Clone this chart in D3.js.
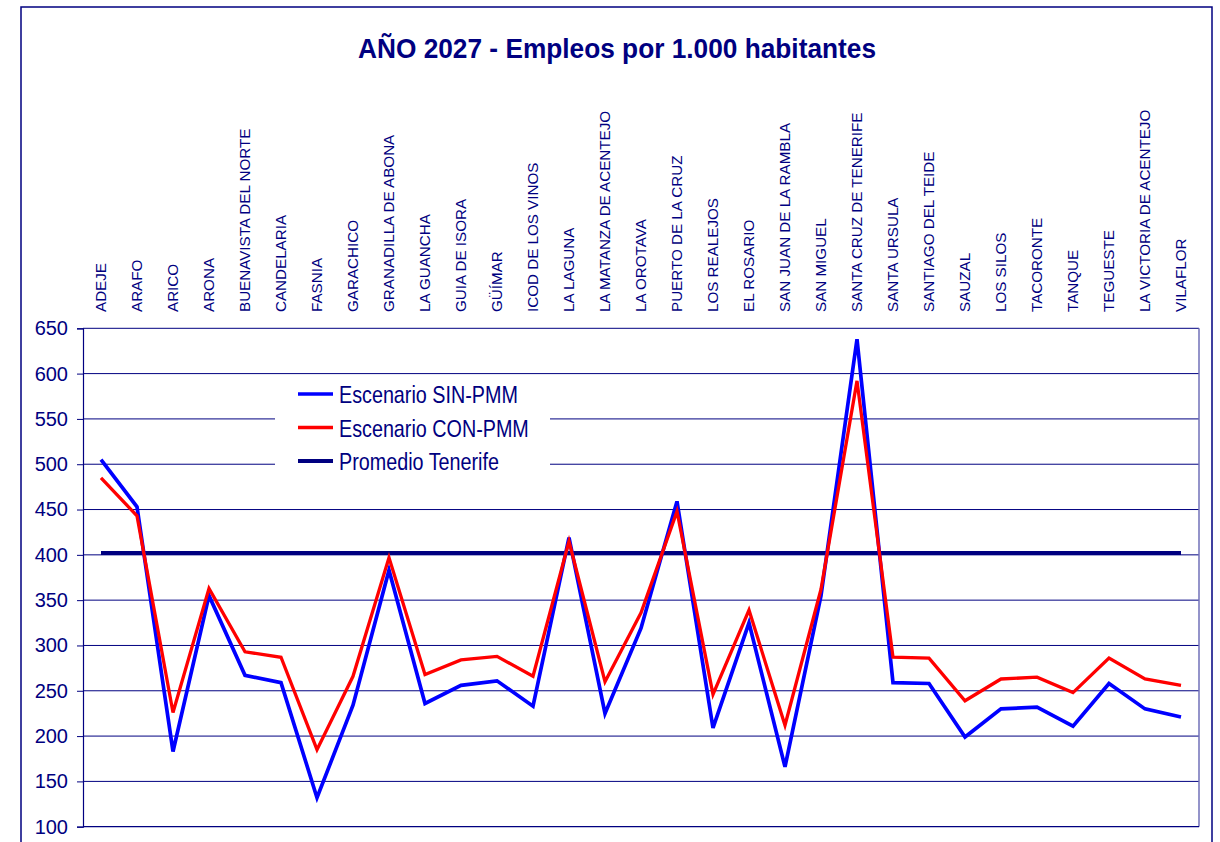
<!DOCTYPE html>
<html>
<head>
<meta charset="utf-8">
<script src="https://cdn.jsdelivr.net/npm/d3@7"></script>
<style>
  body { margin: 0; background: #ffffff; }
  text { font-family: Arial, "Liberation Sans", sans-serif; }
</style>
</head>
<body>
<div id="chart"></div>
<script>
// municipios de Tenerife, en el orden del eje
var municipios = ["ADEJE", "ARAFO", "ARICO", "ARONA", "BUENAVISTA DEL NORTE", "CANDELARIA",
  "FASNIA", "GARACHICO", "GRANADILLA DE ABONA", "LA GUANCHA", "GUIA DE ISORA", "GÜÍMAR",
  "ICOD DE LOS VINOS", "LA LAGUNA", "LA MATANZA DE ACENTEJO", "LA OROTAVA", "PUERTO DE LA CRUZ",
  "LOS REALEJOS", "EL ROSARIO", "SAN JUAN DE LA RAMBLA", "SAN MIGUEL", "SANTA CRUZ DE TENERIFE",
  "SANTA URSULA", "SANTIAGO DEL TEIDE", "SAUZAL", "LOS SILOS", "TACORONTE", "TANQUE",
  "TEGUESTE", "LA VICTORIA DE ACENTEJO", "VILAFLOR"];

var sinPMM = [505, 453, 183, 355, 267, 259, 132, 234, 383, 236, 256, 261, 233, 419, 225, 319,
  459, 209, 325, 166, 355, 638, 259, 258, 199, 230, 232, 211, 258, 230, 221];

var conPMM = [485, 443, 226, 363, 293, 287, 185, 266, 397, 268, 284, 288, 266, 415, 260, 336,
  448, 246, 339, 212, 362, 592, 287, 286, 239, 263, 265, 248, 286, 263, 256];

var promedio = 402;

var yTicks = [100, 150, 200, 250, 300, 350, 400, 450, 500, 550, 600, 650];

var navy = "#000080";

var svg = d3.select("#chart")
            .append("svg")
            .attr("width", 1220)
            .attr("height", 842);

// marco exterior
svg.append("rect")
   .attr("x", 21)
   .attr("y", 7)
   .attr("width", 1191)
   .attr("height", 1000)
   .style("fill", "#ffffff")
   .style("stroke", navy)
   .style("stroke-width", 1.5);

// titulo
svg.append("text")
   .attr("x", 617)
   .attr("y", 57.7)
   .attr("text-anchor", "middle")
   .attr("textLength", 518)
   .attr("lengthAdjust", "spacingAndGlyphs")
   .style("font-size", "28px")
   .style("font-weight", "bold")
   .style("fill", navy)
   .text("AÑO 2027 - Empleos por 1.000 habitantes");

var plotLeft = 83, plotRight = 1199, plotTop = 328.3, plotBottom = 826.7;

var x = d3.scalePoint()
          .domain(municipios)
          .range([plotLeft, plotRight])
          .padding(0.5);

var y = d3.scaleLinear()
          .domain([100, 650])
          .range([plotBottom, plotTop]);

// lineas de rejilla
svg.append("g")
   .selectAll("line")
   .data(yTicks.slice(1))
   .enter()
   .append("line")
   .attr("x1", plotLeft)
   .attr("x2", plotRight)
   .attr("y1", function(d) { return y(d); })
   .attr("y2", function(d) { return y(d); })
   .style("stroke", navy)
   .style("stroke-width", 1);

// borde derecho del area de trazado
svg.append("line")
   .attr("x1", plotRight)
   .attr("x2", plotRight)
   .attr("y1", plotTop)
   .attr("y2", plotBottom)
   .style("stroke", "#7070b8")
   .style("stroke-width", 1.5);

// eje X (linea base)
svg.append("line")
   .attr("x1", plotLeft)
   .attr("x2", plotRight)
   .attr("y1", plotBottom)
   .attr("y2", plotBottom)
   .style("stroke", navy)
   .style("stroke-width", 1.2);

// eje Y
var yAxis = svg.append("g")
               .attr("transform", "translate(" + plotLeft + ",0)")
               .call(d3.axisLeft(y).tickValues(yTicks).tickSize(6).tickPadding(9));
yAxis.select(".domain").style("stroke", navy).style("stroke-width", 1.2);
yAxis.selectAll(".tick line").style("stroke", navy);
yAxis.selectAll("text")
     .style("font-size", "20px")
     .style("fill", navy);

// etiquetas de municipios (verticales, arriba)
svg.append("g")
   .selectAll("text")
   .data(municipios)
   .enter()
   .append("text")
   .attr("transform", function(d) { return "translate(" + (x(d) + 5.4) + ",312) rotate(-90)"; })
   .attr("text-anchor", "start")
   .style("font-size", "15.2px")
   .style("fill", navy)
   .text(function(d) { return d; });

// leyenda (fondo blanco que tapa la rejilla)
svg.append("rect")
   .attr("x", 275)
   .attr("y", 377)
   .attr("width", 275)
   .attr("height", 100)
   .style("fill", "#ffffff");

var leyenda = [
  { nombre: "Escenario SIN-PMM", color: "#0000ff", ancho: 3.5, fila: 0 },
  { nombre: "Escenario CON-PMM", color: "#ff0000", ancho: 3.5, fila: 1 },
  { nombre: "Promedio Tenerife", color: navy, ancho: 3.8, fila: 2 }
];

var ley = svg.append("g")
             .selectAll("g")
             .data(leyenda)
             .enter()
             .append("g")
             .attr("transform", function(d) { return "translate(298," + (394 + d.fila * 33.5) + ")"; });

ley.append("line")
   .attr("x1", 0)
   .attr("x2", 35)
   .attr("y1", 0)
   .attr("y2", 0)
   .style("stroke", function(d) { return d.color; })
   .style("stroke-width", function(d) { return d.ancho; });

ley.append("text")
   .attr("transform", "translate(41,9.3) scale(0.83,1)")
   .style("font-size", "23.8px")
   .style("fill", navy)
   .text(function(d) { return d.nombre; });

// promedio Tenerife
svg.append("line")
   .attr("x1", x(municipios[0]))
   .attr("x2", x(municipios[municipios.length - 1]))
   .attr("y1", y(promedio))
   .attr("y2", y(promedio))
   .style("stroke", navy)
   .style("stroke-width", 4);

var linea = d3.line()
              .x(function(d, i) { return x(municipios[i]); })
              .y(function(d) { return y(d); });

// escenario SIN-PMM
svg.append("path")
   .datum(sinPMM)
   .attr("d", linea)
   .style("fill", "none")
   .style("stroke", "#0000ff")
   .style("stroke-width", 3.7);

// escenario CON-PMM
svg.append("path")
   .datum(conPMM)
   .attr("d", linea)
   .style("fill", "none")
   .style("stroke", "#ff0000")
   .style("stroke-width", 3.3);
</script>
</body>
</html>
